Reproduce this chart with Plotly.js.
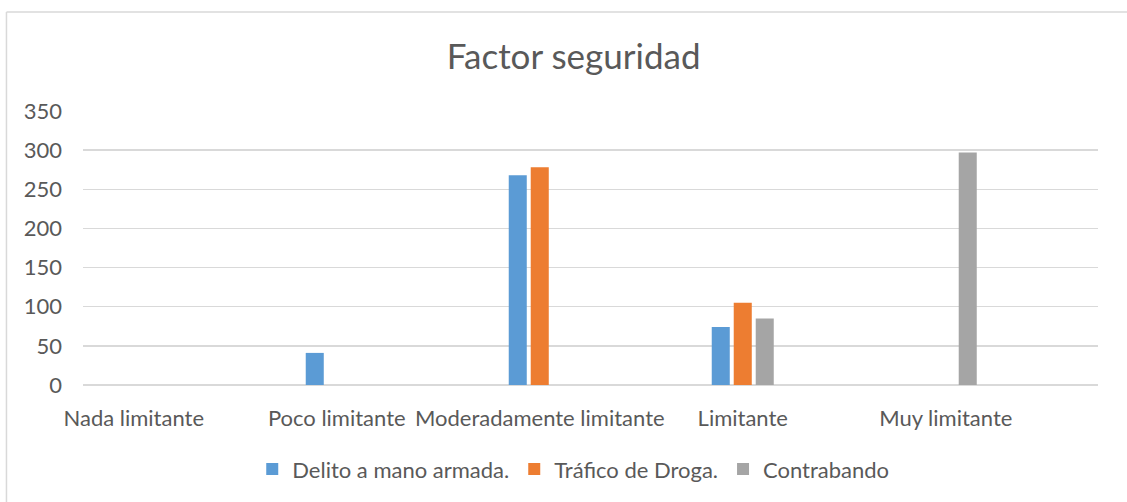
<!DOCTYPE html>
<html>
<head>
<meta charset="utf-8">
<script src="https://cdn.plot.ly/plotly-3.0.1.min.js"></script>
<style>
html,body{margin:0;padding:0;background:#fff;}
#chart{width:1127px;height:502px;}
</style>
</head>
<body>
<div id="chart"></div>
<script>
var categories = ["Nada limitante", "Poco limitante", "Moderadamente limitante", "Limitante", "Muy limitante"];
var seriesNames = ["Delito a mano armada.", "Tráfico de Droga.", "Contrabando"];
var delito = [0, 41, 268, 74, 0];
var trafico = [0, 0, 278, 105, 0];
var contrabando = [0, 0, 0, 85, 297];
var colors = ["#5B9BD5", "#ED7D31", "#A5A5A5"];
var yTicks = [0, 50, 100, 150, 200, 250, 300, 350];

var xs = categories.map(function(c, i){ return i; });
var values = [delito, trafico, contrabando];
var traces = values.map(function(v, k){
  return {
    type: "bar",
    x: xs,
    y: v,
    name: seriesNames[k],
    marker: {color: colors[k], line: {width: 0}},
    hoverinfo: "y"
  };
});

var fontFam = "Lato, 'Open Sans', sans-serif";
var layout = {
  width: 1127,
  height: 502,
  margin: {l: 83, r: 29, t: 111, b: 117},
  paper_bgcolor: "#fff",
  plot_bgcolor: "#fff",
  font: {family: fontFam, color: "#595959", size: 22},
  title: {
    text: "Factor seguridad",
    font: {family: fontFam, size: 35, color: "#595959"},
    x: 0.509, xref: "container", xanchor: "center",
    y: 0.886, yref: "container", yanchor: "middle"
  },
  barmode: "group",
  bargap: 0.675,
  bargroupgap: 0.18,
  xaxis: {
    range: [-0.25, 4.75],
    tickvals: xs,
    ticktext: categories,
    showgrid: false,
    zeroline: false,
    showline: false,
    ticks: "",
    ticklabelstandoff: 18,
    tickfont: {size: 22, color: "#595959"},
    fixedrange: true
  },
  yaxis: {
    range: [0, 350],
    tickvals: yTicks,
    showgrid: true,
    gridcolor: "#D9D9D9",
    gridwidth: 1.5,
    zeroline: true,
    zerolinecolor: "#D9D9D9",
    zerolinewidth: 1.5,
    showline: false,
    ticks: "",
    ticklabelstandoff: 20,
    tickfont: {size: 22, color: "#595959"},
    fixedrange: true
  },
  showlegend: true,
  legend: {
    orientation: "h",
    x: 0.483, xanchor: "center",
    y: -0.307, yanchor: "middle",
    font: {size: 22, color: "#595959"},
    itemwidth: 20,
    traceorder: "normal"
  },
  shapes: [
    {type: "line", xref: "paper", yref: "paper", x0: -0.0754, x1: 1.1, y0: 1.361, y1: 1.361, line: {color: "#D9D9D9", width: 1.5}},
    {type: "line", xref: "paper", yref: "paper", x0: -0.0754, x1: -0.0754, y0: 1.361, y1: -0.5, line: {color: "#D9D9D9", width: 1.5}}
  ]
};

Plotly.newPlot("chart", traces, layout, {displayModeBar: false, staticPlot: true});
</script>
</body>
</html>
